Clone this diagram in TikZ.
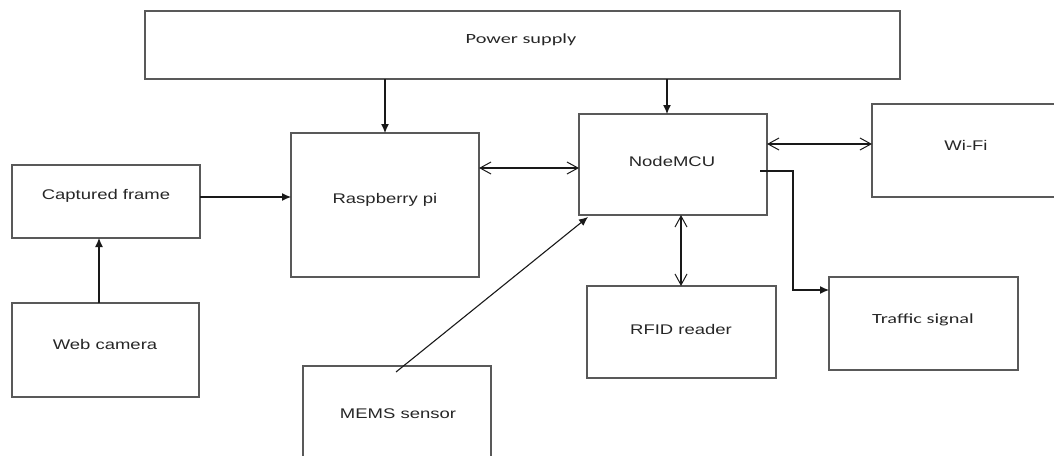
\documentclass[tikz,border=0pt]{standalone}
\usepackage{fontspec}
\setmainfont{Liberation Sans}
\newfontfamily\vfont[FakeStretch=1.32]{Liberation Sans}
\newfontfamily\cfont[FakeStretch=1.45]{Carlito}
\usetikzlibrary{arrows.meta,calc}
\begin{document}
\begin{tikzpicture}[x=1pt,y=-1pt,
  box/.style={draw=black!65, line width=1.2pt, inner sep=0pt, outer sep=0pt, fill=none},
  lbl/.style={inner sep=0pt, text=black!85, font=\vfont\fontsize{14}{16}\selectfont},
  clbl/.style={inner sep=0pt, text=black!85, font=\cfont\fontsize{14}{16}\selectfont},
  conn/.style={draw=black!90, line width=1.1pt},
  fa/.style={conn, -{Latex[length=9pt,width=8pt]}},
  da/.style={conn, {Straight Barb[length=11pt,width=12pt,line width=1pt]}-{Straight Barb[length=11pt,width=12pt,line width=1pt]}}
]
\useasboundingbox (0,0) rectangle (1054,455);

% boxes
\node[box, minimum width=755, minimum height=68] (ps) at (522.5,45) {};
\node[box, minimum width=188, minimum height=144] (rpi) at (385,205) {};
\node[box, minimum width=188, minimum height=101] (nmcu) at (673,164.5) {};
\node[box, minimum width=198, minimum height=93] (wifi) at (971,150.5) {};
\node[box, minimum width=188, minimum height=73] (cap) at (106,201.5) {};
\node[box, minimum width=187, minimum height=94] (web) at (105.5,350) {};
\node[box, minimum width=189, minimum height=92] (rfid) at (681.5,332) {};
\node[box, minimum width=189, minimum height=93] (traffic) at (923.5,323.5) {};
\node[box, minimum width=188, minimum height=104] (mems) at (397,418) {};

% labels
\node[clbl] (tps) at (521,40) {Power supply};
\node[lbl] (trpi) at (385,200) {Raspberry pi};
\node[lbl] (tnmcu) at (672,161) {NodeMCU};
\node[lbl] (twifi) at (966,145) {Wi-Fi};
\node[lbl] (tcap) at (106,196) {Captured frame};
\node[lbl] (tweb) at (105,344) {Web camera};
\node[lbl] (trfid) at (681,329) {RFID reader};
\node[clbl] (ttraffic) at (923,320) {Traffic signal};
\node[lbl] (tmems) at (398,414) {MEMS sensor};

% connectors
\draw[fa] (ps.south -| rpi.north) -- (rpi.north);
\draw[fa] ($(ps.south -| nmcu.north)+(-6,0)$) -- ($(nmcu.north)+(-6,0)$);
\draw[fa] ($(web.north)+(-6.5,0)$) -- ($(cap.south)+(-7,0)$);
\draw[fa] (cap.east |- 0,197) -- (rpi.west |- 0,197);
\draw[da] (rpi.east |- 0,168) -- (nmcu.west |- 0,168);
\draw[da] (nmcu.east |- 0,144) -- (wifi.west |- 0,144);
\draw[da] (nmcu.south -| 681,0) -- (rfid.north -| 681,0);
\coordinate (elb) at ($(nmcu.east |- 0,171)+(-7,0)$);
\draw[fa] (elb) -- (793,171) -- (793,290) -- (traffic.west |- 0,290);
\coordinate (ms) at ($(mems.north)+(-1,6)$);
\draw[fa] (ms) -- ($(nmcu.south west)+(9,2)$);
\end{tikzpicture}
\end{document}
